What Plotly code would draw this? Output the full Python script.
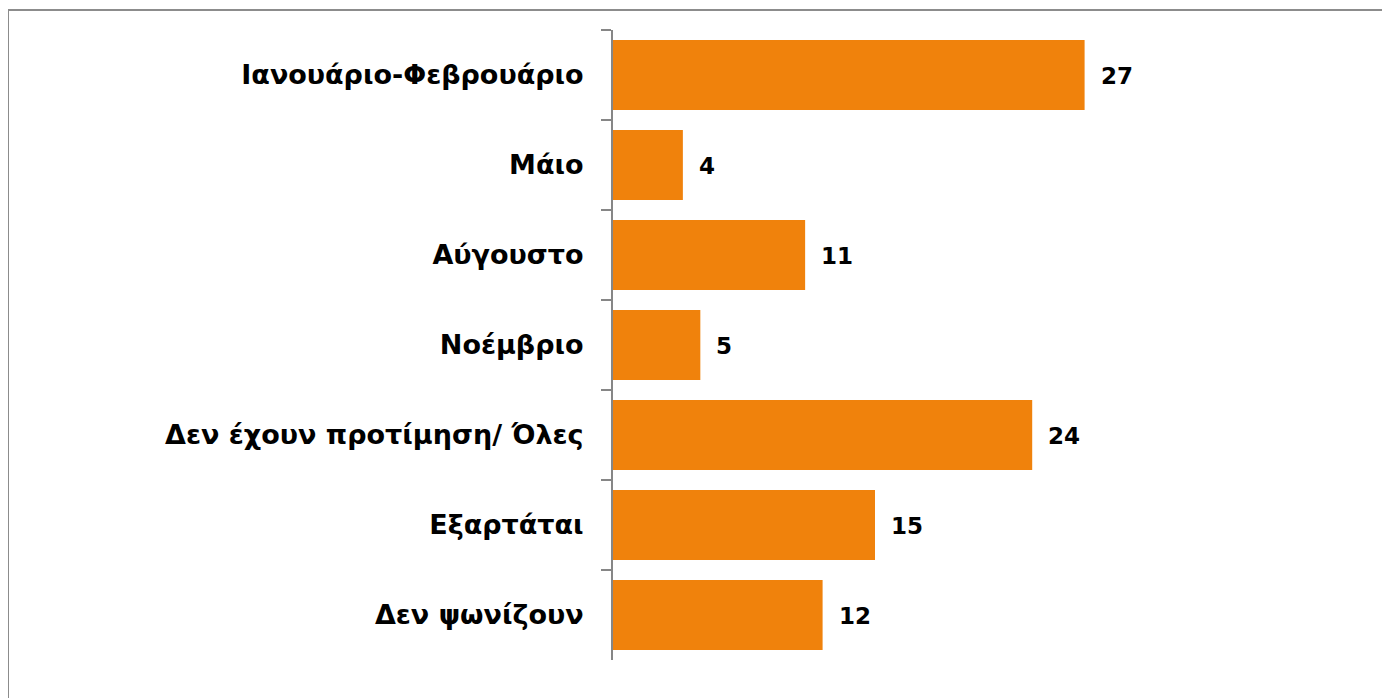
import plotly.graph_objects as go

categories = [
    "Ιανουάριο-Φεβρουάριο",
    "Μάιο",
    "Αύγουστο",
    "Νοέμβριο",
    "Δεν έχουν προτίμηση/ Όλες",
    "Εξαρτάται",
    "Δεν ψωνίζουν",
]
values = [27, 4, 11, 5, 24, 15, 12]

W, H = 1390, 698
# page body adds an 8px margin, so the plot box is set 8px up/left
L, R, T, B = 605, 261, 22, 46
pw = W - L - R
ph = H - T - B

fig = go.Figure()
fig.add_trace(go.Bar(
    x=values,
    y=categories,
    orientation="h",
    marker=dict(color="#F0820C", line=dict(width=0)),
    width=0.78,
    hoverinfo="x+y",
))

for c, v in zip(categories, values):
    fig.add_annotation(
        x=v, y=c, text=f"<b>{v}</b>", showarrow=False,
        xanchor="left", xshift=14, yshift=-1,
        font=dict(family="DejaVu Sans", size=23, color="black"),
    )

# outer frame (partly outside the canvas)
fig.add_shape(
    type="rect", xref="paper", yref="paper",
    x0=(0 - L) / pw, x1=(W + 20 - L) / pw,
    y0=-(H + 20 - (H - B)) / ph, y1=(H - B - 2) / ph,
    line=dict(color="#8C8C8C", width=2), layer="below",
)

fig.update_layout(
    width=W, height=H,
    margin=dict(l=L, r=R, t=T, b=B),
    plot_bgcolor="white", paper_bgcolor="white",
    showlegend=False,
    bargap=0.22,
    font=dict(family="DejaVu Sans", color="black"),
)
fig.update_xaxes(range=[0, 30], visible=False)
fig.update_yaxes(
    autorange="reversed",
    showline=True, linecolor="#868686", linewidth=2,
    ticks="outside", ticklen=10, tickcolor="#868686", tickwidth=2,
    tickson="boundaries",
    ticklabelstandoff=22,
    tickfont=dict(family="DejaVu Sans", size=27, color="black", weight="bold"),
    showgrid=False,
)

fig.write_html("out.html")
